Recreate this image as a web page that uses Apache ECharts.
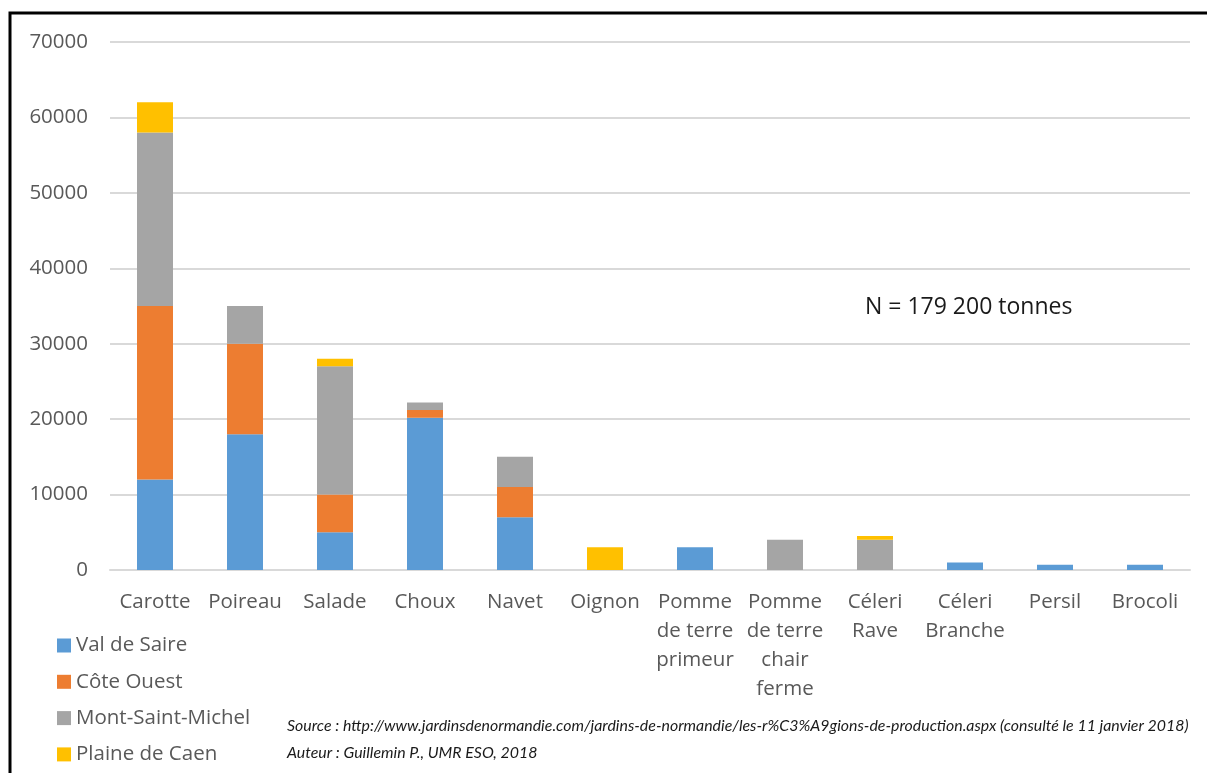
<!DOCTYPE html>
<html>
<head>
<meta charset="utf-8">
<script src="https://cdn.jsdelivr.net/npm/echarts@6/dist/echarts.min.js"></script>
<style>
  html, body { margin: 0; padding: 0; background: #fff; }
  #chart { width: 1207px; height: 773px; }
</style>
</head>
<body>
<div id="chart"></div>
<script>
  var categories = ['Carotte', 'Poireau', 'Salade', 'Choux', 'Navet', 'Oignon', 'Pomme\nde terre\nprimeur', 'Pomme\nde terre\nchair\nferme', 'Céleri\nRave', 'Céleri\nBranche', 'Persil', 'Brocoli']
  var valDeSaire = [12000, 18000, 5000, 20200, 7000, 0, 3000, 0, 0, 1000, 700, 700]
  var coteOuest = [23000, 12000, 5000, 1000, 4000, 0, 0, 0, 0, 0, 0, 0]
  var montSaintMichel = [23000, 5000, 17000, 1000, 4000, 0, 0, 4000, 4000, 0, 0, 0]
  var plaineDeCaen = [4000, 0, 1000, 0, 0, 3000, 0, 0, 500, 0, 0, 0]
  var yTicks = [0, 10000, 20000, 30000, 40000, 50000, 60000, 70000]

  var font = '"Open Sans", "Noto Sans", sans-serif'
  var chart = echarts.init(document.getElementById('chart'))

  function serie (name, data, color) {
    return {
      name: name,
      type: 'bar',
      stack: 'total',
      barWidth: '40%',
      data: data.map(function (v) { return v === 0 ? null : v }),
      itemStyle: { color: color }
    }
  }

  chart.setOption({
    animation: false,
    textStyle: { fontFamily: font },
    grid: { left: 110, right: 17, top: 42, bottom: 203 },
    legend: {
      orient: 'vertical',
      left: 52,
      top: 630,
      itemWidth: 14,
      itemHeight: 14,
      itemGap: 15.3,
      icon: 'rect',
      textStyle: { fontFamily: font, fontSize: 20.5, lineHeight: 21, color: '#595959' },
      data: ['Val de Saire', 'Côte Ouest', 'Mont-Saint-Michel', 'Plaine de Caen']
    },
    xAxis: {
      type: 'category',
      data: categories,
      axisLine: { lineStyle: { color: '#d9d9d9', width: 2 } },
      axisTick: { show: false },
      axisLabel: { color: '#595959', fontSize: 20.5, lineHeight: 29, margin: 18, interval: 0 }
    },
    yAxis: {
      type: 'value',
      min: yTicks[0],
      max: yTicks[yTicks.length - 1],
      interval: 10000,
      axisLine: { show: false },
      axisTick: { show: false },
      splitLine: { lineStyle: { color: '#d9d9d9', width: 2 } },
      axisLabel: { color: '#595959', fontSize: 20.5, margin: 22, formatter: function (v) { return String(v) } }
    },
    series: [
      serie('Val de Saire', valDeSaire, '#5b9bd5'),
      serie('Côte Ouest', coteOuest, '#ed7d31'),
      serie('Mont-Saint-Michel', montSaintMichel, '#a5a5a5'),
      serie('Plaine de Caen', plaineDeCaen, '#ffc000')
    ],
    graphic: [
      {
        type: 'rect',
        shape: { x: 10, y: 13, width: 1220, height: 800 },
        style: { fill: 'none', stroke: '#000', lineWidth: 3 },
        silent: true
      },
      {
        type: 'text',
        left: 865,
        top: 296,
        style: { text: 'N = 179 200 tonnes', font: '23px ' + font, fill: '#1a1a1a' }
      },
      {
        type: 'text',
        left: 287,
        top: 712,
        style: {
          text: 'Source : http://www.jardinsdenormandie.com/jardins-de-normandie/les-r%C3%A9gions-de-production.aspx (consulté le 11 janvier 2018)\nAuteur : Guillemin P., UMR ESO, 2018',
          font: 'italic 15.9px Lato, sans-serif',
          lineHeight: 27,
          fill: '#1a1a1a'
        }
      }
    ]
  })
</script>
</body>
</html>
